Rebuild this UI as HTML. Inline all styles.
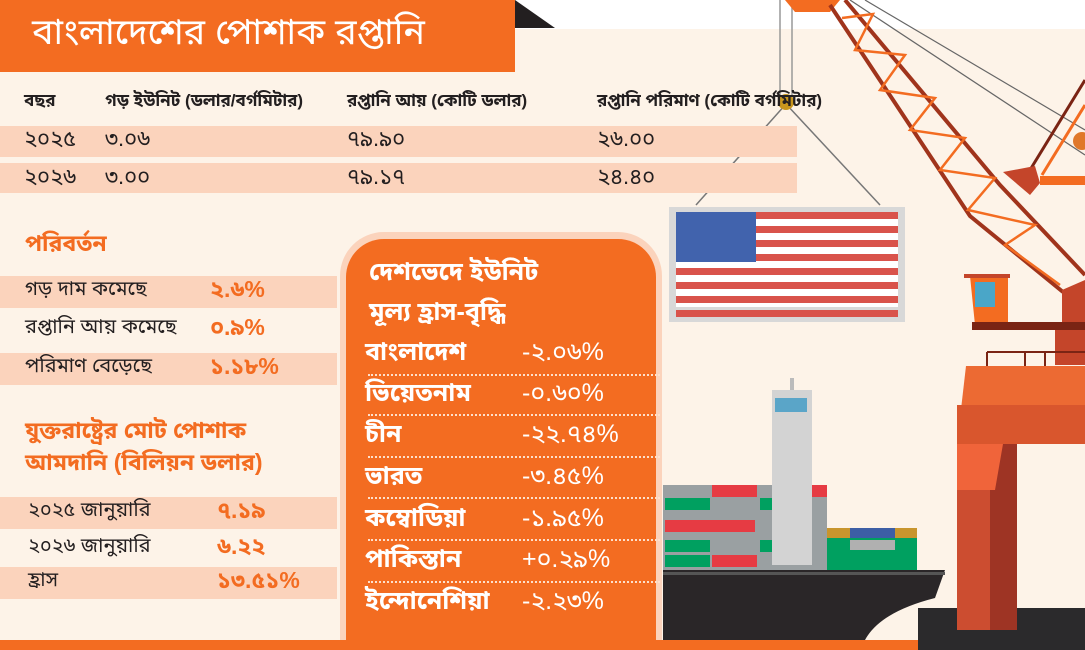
<!DOCTYPE html>
<html><head><meta charset="utf-8"><style>
*{margin:0;padding:0;box-sizing:border-box}
html,body{width:1085px;height:650px;overflow:hidden}
body{background:#fff;position:relative;font-family:"Liberation Sans","Noto Sans Bengali","Lohit Bengali","FreeSans",sans-serif;color:#231f20}
.a{position:absolute;white-space:nowrap}
.band{position:absolute;background:#fbd3bc}
.o{color:#f36c21;font-weight:bold}
.r{font-size:22px}
.c{position:absolute;left:365px;font-size:25px;color:#fff;font-weight:bold}
.v{position:absolute;left:522px;font-size:25px;color:#fff}
.dl{position:absolute;left:368px;width:292px;border-top:2px dotted #fde0cc}
</style></head><body>
<div class="a" style="left:0;top:29px;width:1085px;height:621px;background:#fdf3e8"></div>
<svg class="a" style="left:0;top:0" width="1085" height="650">
<polygon points="515,0 555,28 515,28" fill="#231f20"/>
<line x1="780" y1="0" x2="780" y2="100" stroke="#999" stroke-width="1.5"/>
<line x1="792" y1="0" x2="792" y2="100" stroke="#999" stroke-width="1.5"/>
<line x1="786" y1="104" x2="696" y2="205" stroke="#777" stroke-width="1.5"/>
<line x1="786" y1="104" x2="880" y2="205" stroke="#777" stroke-width="1.5"/>
<line x1="850" y1="0" x2="1085" y2="155" stroke="#666" stroke-width="1.2"/>
<line x1="865" y1="0" x2="1085" y2="130" stroke="#666" stroke-width="1.2"/>
<circle cx="786" cy="102" r="8" fill="#c8961e"/>
<polygon points="785,0 840,0 830,12 795,12" fill="#f36c21"/>
<polyline points="830,5 970,216 1063,292" fill="none" stroke="#a0341c" stroke-width="4"/>
<polyline points="845,0 1000,185 1085,275" fill="none" stroke="#a0341c" stroke-width="4"/>
<polyline points="842,18 873,14 855,50 905,55 880,90 935,98 910,130 965,138 940,170 995,178 968,210 1035,225 1005,245 1060,285" fill="none" stroke="#f36c21" stroke-width="2.5"/>
<line x1="1030" y1="170" x2="1085" y2="80" stroke="#7a2414" stroke-width="3"/>
<line x1="1042" y1="175" x2="1085" y2="105" stroke="#f36c21" stroke-width="3"/>
<polygon points="1003,172 1035,166 1040,183 1030,195" fill="#c4452a"/>
<rect x="1040" y="176" width="45" height="9" fill="#f36c21"/>
<circle cx="1082" cy="141" r="9" fill="#e0782a"/>
<polygon points="970,276 1008,276 1008,325 975,325" fill="#f36c21"/>
<rect x="964" y="274" width="46" height="4" fill="#c4452a"/>
<rect x="975" y="282" width="20" height="25" fill="#4aa6c8"/>
<polygon points="1062,290 1085,280 1085,330 1062,330" fill="#c4452a"/>
<rect x="972" y="322" width="113" height="8" fill="#7a2414"/>
<rect x="1055" y="330" width="30" height="35" fill="#c4452a"/>
<path d="M987,352 H1085 M987,352 V368 M1025,352 V368 M1045,352 V368" stroke="#7a2414" stroke-width="2" fill="none"/>
<polygon points="966,366 1085,366 1085,444 957,444" fill="#ec6a33"/>
<rect x="957" y="405" width="128" height="39" fill="#d9562d"/>
<rect x="918" y="608" width="167" height="42" fill="#2b2a2c"/>
<polygon points="957,444 1017,444 1017,630 957,630" fill="#cc4d30"/>
<rect x="990" y="444" width="27" height="186" fill="#9e3424"/>
<polygon points="957,444 1003,444 995,490 957,490" fill="#f0643a"/>
<rect x="669" y="207" width="236" height="115" fill="#d8d8d8"/>
<rect x="676" y="212" width="222" height="95" fill="#fff"/>
<g fill="#d9534b">
<rect x="676" y="212" width="222" height="7"/><rect x="676" y="226" width="222" height="7"/><rect x="676" y="240" width="222" height="7"/><rect x="676" y="254" width="222" height="7"/><rect x="676" y="268" width="222" height="7"/><rect x="676" y="282" width="222" height="7"/><rect x="676" y="296" width="222" height="7"/><rect x="676" y="310" width="222" height="7"/></g>
<rect x="676" y="212" width="80" height="50" fill="#4163ad"/>
<rect x="663" y="485" width="164" height="85" fill="#9aa0a2"/>
<g fill="#00a060"><rect x="665" y="498" width="45" height="12"/><rect x="665" y="540" width="45" height="12"/><rect x="760" y="498" width="30" height="12"/><rect x="760" y="540" width="30" height="12"/><rect x="665" y="555" width="45" height="12"/></g>
<g fill="#e63b43"><rect x="712" y="485" width="45" height="12"/><rect x="665" y="520" width="90" height="12"/><rect x="712" y="555" width="45" height="12"/><rect x="810" y="485" width="17" height="12"/></g>
<rect x="772" y="390" width="40" height="175" fill="#d3d3d3"/>
<rect x="775" y="398" width="32" height="14" fill="#5aa5c8"/>
<rect x="790" y="378" width="4" height="12" fill="#bbb"/>
<rect x="827" y="530" width="90" height="40" fill="#00a060"/>
<rect x="827" y="528" width="90" height="10" fill="#c8952e"/>
<rect x="850" y="528" width="45" height="10" fill="#3d5ea5"/>
<rect x="850" y="540" width="45" height="10" fill="#b0b0b0"/>
<path d="M663,570 H945 L935,598 Q880,612 865,640 H663 Z" fill="#2a2628"/>
<rect x="663" y="572" width="282" height="3" fill="#555"/>
</svg>
<div class="a" style="left:0;top:0;width:515px;height:72px;background:#f36c21"></div>
<div class="a" style="left:32px;top:11px;font-size:36px;color:#fff">বাংলাদেশের পোশাক রপ্তানি</div>
<div class="a" style="left:24px;top:90px;font-size:17px;font-weight:bold">বছর</div>
<div class="a" style="left:105px;top:90px;font-size:17px;font-weight:bold">গড় ইউনিট (ডলার/বর্গমিটার)</div>
<div class="a" style="left:347px;top:90px;font-size:17px;font-weight:bold">রপ্তানি আয় (কোটি ডলার)</div>
<div class="a" style="left:597px;top:90px;font-size:17px;font-weight:bold">রপ্তানি পরিমাণ (কোটি বর্গমিটার)</div>
<div class="band" style="left:0;top:126px;width:797px;height:31px"></div>
<div class="band" style="left:0;top:163px;width:797px;height:30px"></div>
<div class="a r" style="left:24px;top:126px">২০২৫</div><div class="a r" style="left:105px;top:126px">৩.০৬</div><div class="a r" style="left:347px;top:126px">৭৯.৯০</div><div class="a r" style="left:597px;top:126px">২৬.০০</div>
<div class="a r" style="left:24px;top:164px">২০২৬</div><div class="a r" style="left:105px;top:164px">৩.০০</div><div class="a r" style="left:347px;top:164px">৭৯.১৭</div><div class="a r" style="left:597px;top:164px">২৪.৪০</div>
<div class="a o" style="left:25px;top:230px;font-size:23px">পরিবর্তন</div>
<div class="band" style="left:0;top:276px;width:337px;height:32px"></div>
<div class="band" style="left:0;top:353px;width:337px;height:32px"></div>
<div class="a" style="left:25px;top:278px;font-size:20px">গড় দাম কমেছে</div><div class="a o" style="left:210px;top:276px;font-size:23px">২.৬%</div>
<div class="a" style="left:25px;top:316px;font-size:20px">রপ্তানি আয় কমেছে</div><div class="a o" style="left:210px;top:314px;font-size:23px">০.৯%</div>
<div class="a" style="left:25px;top:355px;font-size:20px">পরিমাণ বেড়েছে</div><div class="a o" style="left:210px;top:353px;font-size:23px">১.১৮%</div>
<div class="a o" style="left:25px;top:414px;font-size:23px;line-height:32px">যুক্তরাষ্ট্রের মোট পোশাক<br>আমদানি (বিলিয়ন ডলার)</div>
<div class="band" style="left:0;top:497px;width:337px;height:32px"></div>
<div class="band" style="left:0;top:567px;width:337px;height:32px"></div>
<div class="a" style="left:28px;top:499px;font-size:20px">২০২৫ জানুয়ারি</div><div class="a o" style="left:217px;top:497px;font-size:23px">৭.১৯</div>
<div class="a" style="left:28px;top:535px;font-size:20px">২০২৬ জানুয়ারি</div><div class="a o" style="left:217px;top:533px;font-size:23px">৬.২২</div>
<div class="a" style="left:28px;top:569px;font-size:20px">হ্রাস</div><div class="a o" style="left:217px;top:567px;font-size:23px">১৩.৫১%</div>
<div class="a" style="left:340px;top:232px;width:322px;height:408px;background:#fbd3bc;border-radius:44px 44px 0 0"></div>
<div class="a" style="left:346px;top:239px;width:310px;height:401px;background:#f36c21;border-radius:38px 38px 0 0"></div>
<div class="a" style="left:369px;top:252px;font-size:25px;color:#fff;font-weight:bold;line-height:40px">দেশভেদে ইউনিট<br>মূল্য হ্রাস-বৃদ্ধি</div>
<div class="c" style="top:338px">বাংলাদেশ</div><div class="v" style="top:338px">-২.০৬%</div><div class="dl" style="top:374px"></div>
<div class="c" style="top:379px">ভিয়েতনাম</div><div class="v" style="top:379px">-০.৬০%</div><div class="dl" style="top:414px"></div>
<div class="c" style="top:420px">চীন</div><div class="v" style="top:420px">-২২.৭৪%</div><div class="dl" style="top:456px"></div>
<div class="c" style="top:462px">ভারত</div><div class="v" style="top:462px">-৩.৪৫%</div><div class="dl" style="top:497px"></div>
<div class="c" style="top:504px">কম্বোডিয়া</div><div class="v" style="top:504px">-১.৯৫%</div><div class="dl" style="top:539px"></div>
<div class="c" style="top:545px">পাকিস্তান</div><div class="v" style="top:545px">+০.২৯%</div><div class="dl" style="top:581px"></div>
<div class="c" style="top:587px">ইন্দোনেশিয়া</div><div class="v" style="top:587px">-২.২৩%</div>
<div class="a" style="left:0;top:640px;width:918px;height:10px;background:#f36c21"></div>
<div class="a" style="left:918px;top:640px;width:167px;height:10px;background:#2b2a2c"></div>
</body></html>
